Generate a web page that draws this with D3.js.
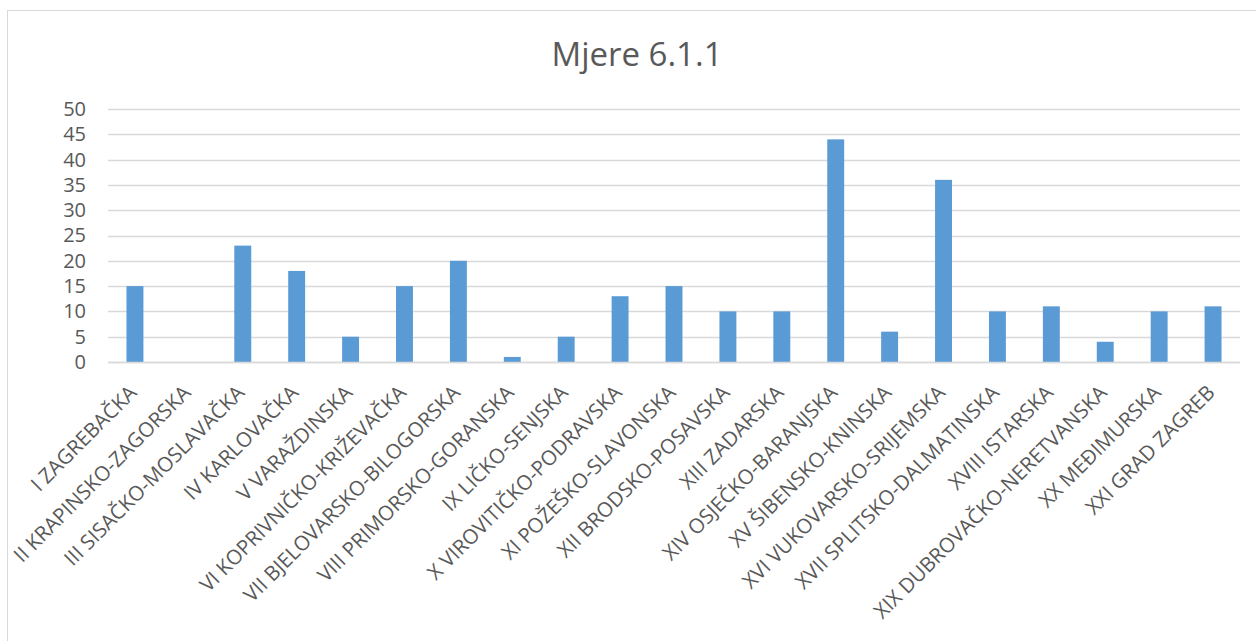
<!DOCTYPE html>
<html>
<head>
<meta charset="utf-8">
<script src="https://cdn.jsdelivr.net/npm/d3@7.9.0/dist/d3.min.js"></script>
<style>
  body { margin: 0; background: #fff; }
  text { font-family: "Open Sans", Lato, sans-serif; fill: #595959; }
</style>
</head>
<body>
<svg id="chart" width="1256" height="641"></svg>
<script>
// Data
const counties = [
  'I ZAGREBAČKA', 'II KRAPINSKO-ZAGORSKA', 'III SISAČKO-MOSLAVAČKA', 'IV KARLOVAČKA',
  'V VARAŽDINSKA', 'VI KOPRIVNIČKO-KRIŽEVAČKA', 'VII BJELOVARSKO-BILOGORSKA',
  'VIII PRIMORSKO-GORANSKA', 'IX LIČKO-SENJSKA', 'X VIROVITIČKO-PODRAVSKA',
  'XI POŽEŠKO-SLAVONSKA', 'XII BRODSKO-POSAVSKA', 'XIII ZADARSKA', 'XIV OSJEČKO-BARANJSKA',
  'XV ŠIBENSKO-KNINSKA', 'XVI VUKOVARSKO-SRIJEMSKA', 'XVII SPLITSKO-DALMATINSKA',
  'XVIII ISTARSKA', 'XIX DUBROVAČKO-NERETVANSKA', 'XX MEĐIMURSKA', 'XXI GRAD ZAGREB'
];
const measures = [15, 0, 23, 18, 5, 15, 20, 1, 5, 13, 15, 10, 10, 44, 6, 36, 10, 11, 4, 10, 11];
const yTicks = [0, 5, 10, 15, 20, 25, 30, 35, 40, 45, 50];

const svg = d3.select('#chart');

// Chart frame
svg.append('rect')
  .attr('x', 7.5).attr('y', 10.5)
  .attr('width', 1260).attr('height', 660)
  .attr('fill', 'none')
  .attr('stroke', '#d9d9d9');

const plotLeft = 108, plotRight = 1240, plotTop = 109, plotBottom = 362;

const x = d3.scaleBand()
  .domain(counties)
  .range([plotLeft, plotRight])
  .paddingInner(0.686)
  .paddingOuter(0.343);

const y = d3.scaleLinear()
  .domain([0, 50])
  .range([plotBottom, plotTop]);

// Title
svg.append('text')
  .attr('x', 637)
  .attr('y', 66)
  .attr('text-anchor', 'middle')
  .style('font-size', '33px')
  .text('Mjere 6.1.1');

// Gridlines
svg.append('g')
  .selectAll('line')
  .data(yTicks)
  .join('line')
  .attr('x1', plotLeft).attr('x2', plotRight)
  .attr('y1', d => Math.round(y(d)) + 0.5)
  .attr('y2', d => Math.round(y(d)) + 0.5)
  .attr('stroke', '#d9d9d9')
  .attr('stroke-width', 1.3);

// Y axis labels
const yAxis = svg.append('g')
  .attr('transform', `translate(${plotLeft},0)`)
  .call(d3.axisLeft(y).tickValues(yTicks).tickSize(0).tickPadding(22));
yAxis.select('.domain').remove();
yAxis.selectAll('text').style('font-size', '20px').attr('fill', '#595959');

// Bars
svg.append('g')
  .selectAll('rect')
  .data(measures)
  .join('rect')
  .attr('x', (d, i) => x(counties[i]))
  .attr('width', x.bandwidth())
  .attr('y', d => y(d))
  .attr('height', d => y(0) - y(d))
  .attr('fill', '#5b9bd5');

// X axis line
svg.append('line')
  .attr('x1', plotLeft).attr('x2', plotRight)
  .attr('y1', plotBottom + 0.5).attr('y2', plotBottom + 0.5)
  .attr('stroke', '#d9d9d9')
  .attr('stroke-width', 1.3);

// Category labels, rotated
svg.append('g')
  .selectAll('text')
  .data(counties)
  .join('text')
  .attr('transform', d => `translate(${x(d) + x.bandwidth() / 2 + 3},${plotBottom + 32}) rotate(-45)`)
  .attr('text-anchor', 'end')
  .style('font-size', '20.5px')
  .text(d => d);
</script>
</body>
</html>
